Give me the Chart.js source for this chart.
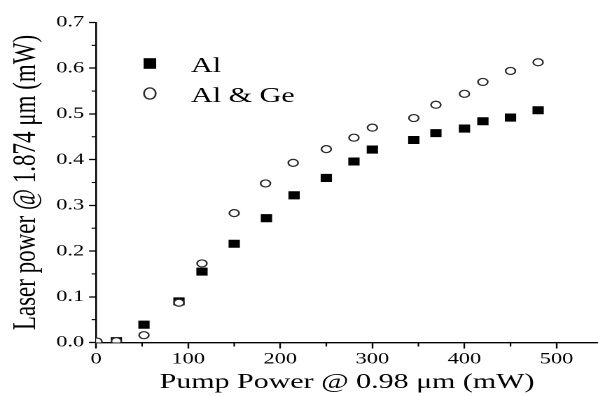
<!DOCTYPE html>
<html>
<head>
<meta charset="utf-8">
<script src="https://cdn.jsdelivr.net/npm/chart.js@4/dist/chart.umd.min.js"></script>
<style>
  html, body { margin: 0; padding: 0; background: #fff; overflow: hidden; }
  /* the figure is laid out on a narrower canvas and widened horizontally */
  #wrap { width: 427px; height: 396px; transform: scaleX(1.40047); transform-origin: 0 0; }
  canvas { display: block; }
</style>
</head>
<body>
<div id="wrap"><canvas id="c" width="427" height="396"></canvas></div>
<script>
// Pump power (mW) and laser output power (mW)
const pumpAl   = [22, 52, 90, 115, 150, 185, 215, 250, 280, 300, 345, 369, 400, 420, 450, 480];
const laserAl  = [0.003, 0.039, 0.090, 0.155, 0.216, 0.272, 0.322, 0.360, 0.396, 0.422, 0.443, 0.458, 0.468, 0.484, 0.492, 0.508];
const pumpAlGe  = [1, 22, 52, 90, 115, 150, 184, 214, 250, 280, 300, 345, 369, 400, 420, 450, 480];
const laserAlGe = [0.002, 0.003, 0.016, 0.087, 0.173, 0.283, 0.348, 0.393, 0.423, 0.448, 0.470, 0.491, 0.520, 0.544, 0.570, 0.594, 0.613];
const seriesNames = ['Al', 'Al & Ge'];
const xTitle = 'Pump Power @ 0.98 \u03bcm (mW)';
const yTitle = 'Laser power @ 1.874 \u03bcm (mW)';

const SERIF = '"Liberation Serif", "Times New Roman", serif';
const toPoints = (xs, ys) => xs.map((x, i) => ({ x: x, y: ys[i] }));

// short minor tick marks between the labelled ones
const minorTicks = {
  id: 'minorTicks',
  afterDraw(chart) {
    const { ctx, chartArea, scales } = chart;
    ctx.save();
    ctx.strokeStyle = '#000';
    ctx.lineWidth = 1.1;
    scales.x.ticks.forEach(t => {
      if (Math.round(t.value) % 100 !== 0) {
        const px = scales.x.getPixelForValue(t.value);
        ctx.beginPath();
        ctx.moveTo(px, chartArea.bottom);
        ctx.lineTo(px, chartArea.bottom + 4);
        ctx.stroke();
      }
    });
    scales.y.ticks.forEach(t => {
      if (Math.round(t.value * 20) % 2 !== 0) {
        const py = scales.y.getPixelForValue(t.value);
        ctx.beginPath();
        ctx.moveTo(chartArea.left, py);
        ctx.lineTo(chartArea.left - 3.2, py);
        ctx.stroke();
      }
    });
    ctx.restore();
  }
};

// legend block in the upper-left of the plot
const insetLegend = {
  id: 'insetLegend',
  afterDraw(chart) {
    const ctx = chart.ctx;
    ctx.save();
    ctx.font = '21.5px ' + SERIF;
    ctx.textBaseline = 'alphabetic';
    ctx.textAlign = 'left';
    chart.data.datasets.forEach((ds, i) => {
      const cy = 63.5 + i * 30;
      const cx = 107;
      if (ds.pointStyle === 'rect') {
        ctx.fillStyle = ds.backgroundColor;
        ctx.fillRect(cx - 4.5, cy - 5.3, 9, 10.6);
      } else {
        ctx.beginPath();
        ctx.ellipse(cx, cy, 4.2, 5.6, 0, 0, Math.PI * 2);
        ctx.fillStyle = ds.backgroundColor;
        ctx.fill();
        ctx.lineWidth = 1.3;
        ctx.strokeStyle = ds.borderColor;
        ctx.stroke();
      }
      ctx.fillStyle = '#000';
      ctx.fillText(ds.label, 136.4, cy + 8.5);
    });
    ctx.restore();
  }
};

new Chart(document.getElementById('c'), {
  type: 'scatter',
  data: {
    datasets: [
      {
        label: seriesNames[0],
        data: toPoints(pumpAl, laserAl),
        pointStyle: 'rect',
        pointRadius: 5.7,
        pointHoverRadius: 5.7,
        backgroundColor: '#000',
        borderColor: '#000',
        borderWidth: 0,
        clip: 0,
        order: 1
      },
      {
        label: seriesNames[1],
        data: toPoints(pumpAlGe, laserAlGe),
        pointStyle: 'circle',
        pointRadius: 3.5,
        pointHoverRadius: 3.5,
        backgroundColor: '#fff',
        borderColor: '#2a2a2a',
        borderWidth: 1.2,
        clip: 0,
        order: 0
      }
    ]
  },
  options: {
    responsive: false,
    devicePixelRatio: 2,
    animation: false,
    events: [],
    layout: { autoPadding: false, padding: { top: 22.5, right: 0, left: 0, bottom: 0 } },
    plugins: { legend: { display: false }, tooltip: { enabled: false } },
    scales: {
      x: {
        type: 'linear',
        min: 0,
        max: 545,
        afterFit: s => { s.height = 53.5; },
        border: { display: true, color: '#000', width: 1.4 },
        grid: {
          display: true,
          drawOnChartArea: false,
          drawTicks: true,
          tickLength: 6,
          tickWidth: 1.2,
          tickColor: c => (Math.round(c.tick.value) % 100 === 0 ? '#000' : 'rgba(0,0,0,0)')
        },
        ticks: {
          stepSize: 50,
          includeBounds: false,
          autoSkip: false,
          maxRotation: 0,
          padding: 1,
          color: '#000',
          font: { family: SERIF, size: 16 },
          callback: v => (Math.round(v) % 100 === 0 ? String(Math.round(v)) : '')
        },
        title: {
          display: true,
          text: xTitle,
          color: '#000',
          font: { family: SERIF, size: 21.4 },
          padding: { top: 0, bottom: 1 }
        }
      },
      y: {
        type: 'linear',
        min: 0,
        max: 0.7,
        afterFit: s => { s.width = 68.6; },
        border: { display: true, color: '#000', width: 1.2 },
        grid: {
          display: true,
          drawOnChartArea: false,
          drawTicks: true,
          tickLength: 5,
          tickWidth: 1.3,
          tickColor: c => (Math.round(c.tick.value * 20) % 2 === 0 ? '#000' : 'rgba(0,0,0,0)')
        },
        ticks: {
          stepSize: 0.05,
          autoSkip: false,
          padding: 3.5,
          color: '#000',
          font: { family: SERIF, size: 16 },
          callback: v => (Math.round(v * 20) % 2 === 0 ? v.toFixed(1) : '')
        },
        title: {
          display: true,
          text: yTitle,
          color: '#000',
          font: { family: SERIF, size: 23 },
          padding: { top: 5, bottom: 0 }
        }
      }
    }
  },
  plugins: [minorTicks, insetLegend]
});
</script>
</body>
</html>
